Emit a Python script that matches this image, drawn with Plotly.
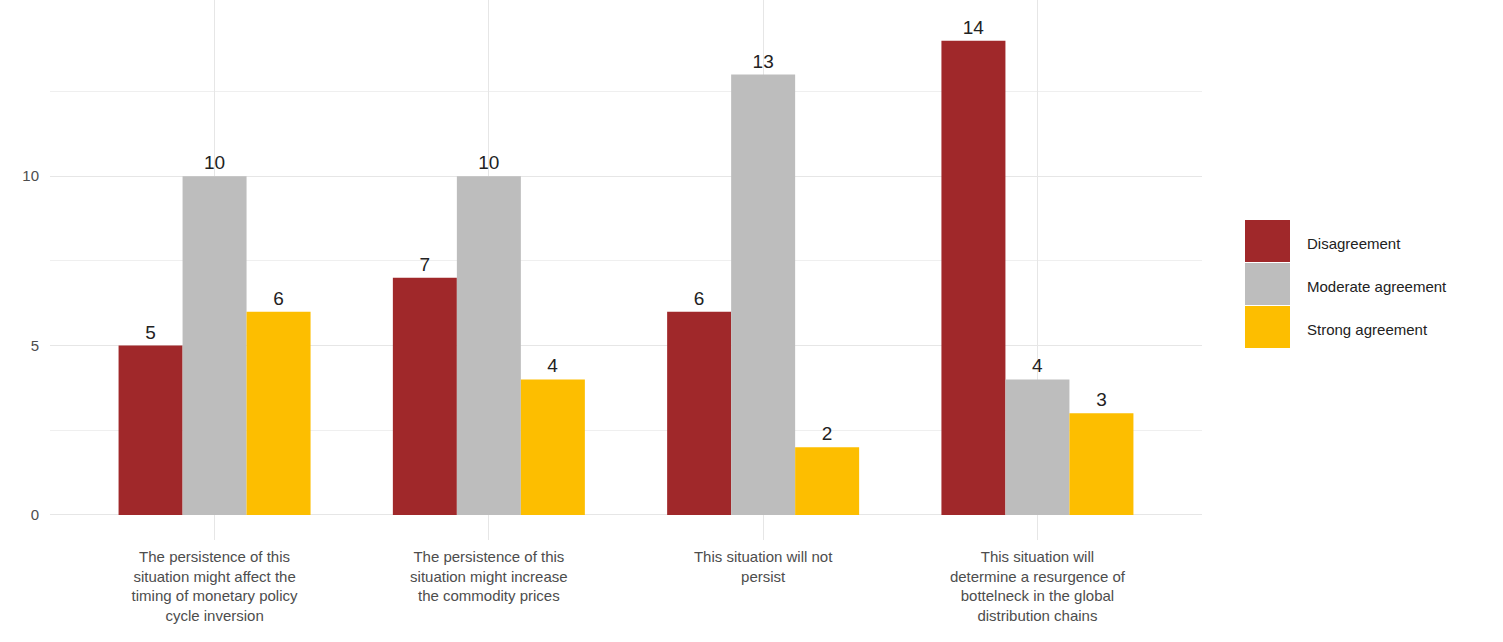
import plotly.graph_objects as go

categories = [
    "The persistence of this<br>situation might affect the<br>timing of monetary policy<br>cycle inversion",
    "The persistence of this<br>situation might increase<br>the commodity prices",
    "This situation will not<br>persist",
    "This situation will<br>determine a resurgence of<br>bottelneck in the global<br>distribution chains",
]
series_names = ["Disagreement", "Moderate agreement", "Strong agreement"]
disagreement = [5, 7, 6, 14]
moderate = [10, 10, 13, 4]
strong = [6, 4, 2, 3]
colors = ["#A0282A", "#BDBDBD", "#FDBE00"]

values = [disagreement, moderate, strong]
x_idx = [1, 2, 3, 4]

fig = go.Figure()
for name, vals, col in zip(series_names, values, colors):
    fig.add_trace(go.Bar(
        x=x_idx, y=vals, name=name, marker=dict(color=col, line=dict(width=0)),
        text=[str(v) for v in vals], textposition="outside",
        textfont=dict(size=19, color="#222222", family="Liberation Sans, Arial"),
        cliponaxis=False, showlegend=False,
    ))

fig.update_layout(
    width=1503, height=642,
    margin=dict(l=50, r=301, t=0, b=102),
    paper_bgcolor="white", plot_bgcolor="white",
    barmode="group", bargap=0.3, bargroupgap=0,
    font=dict(family="Liberation Sans, Arial", color="#4d4d4d"),
)
fig.update_xaxes(
    range=[0.4, 4.6], tickmode="array", tickvals=x_idx, ticktext=categories,
    showgrid=True, gridcolor="#e6e6e6", gridwidth=1, zeroline=False,
    tickfont=dict(size=15, color="#4d4d4d"), showline=False, ticks="",
    ticklabelstandoff=6,
)
fig.update_yaxes(
    range=[-0.74, 15.2], tickmode="array", tickvals=[0, 5, 10],
    showgrid=True, gridcolor="#e6e6e6", gridwidth=1, zeroline=False,
    minor=dict(tickmode="array", tickvals=[2.5, 7.5, 12.5], showgrid=True, gridcolor="#efefef", gridwidth=1),
    tickfont=dict(size=15, color="#4d4d4d"), showline=False, ticks="",
    ticklabelstandoff=10,
)

# legend drawn manually with large swatches
leg_top = 220
sw_h = 43
for i, (name, col) in enumerate(zip(series_names, colors)):
    y0 = leg_top + i * sw_h
    fig.add_shape(type="rect", xref="paper", yref="paper",
                  x0=(1245 - 50) / 1152, x1=(1290 - 50) / 1152,
                  y0=1 - (y0 + sw_h - 1) / 540, y1=1 - y0 / 540,
                  fillcolor=col, line=dict(width=0))
    fig.add_annotation(xref="paper", yref="paper",
                       x=(1305 - 50) / 1152, y=1 - (y0 + sw_h / 2 + 2) / 540,
                       text=name, showarrow=False, xanchor="left", yanchor="middle",
                       font=dict(size=15, color="#222222"))

fig.write_html("out.html")
